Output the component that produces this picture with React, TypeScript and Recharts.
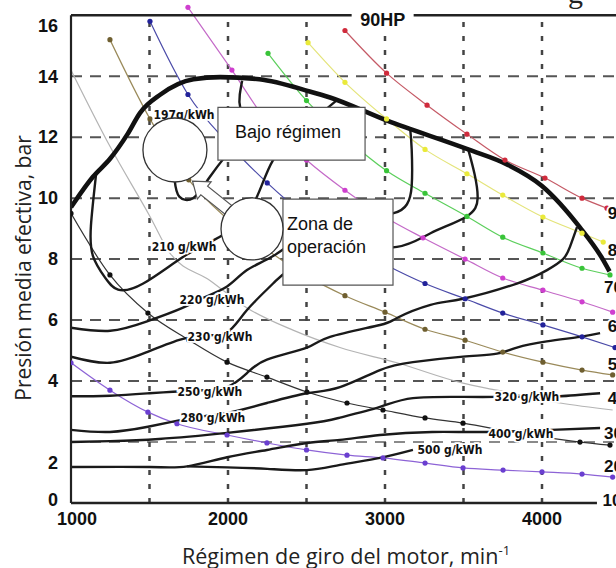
import { ComposedChart, Line, XAxis, YAxis, ReferenceLine, ReferenceDot, ReferenceArea } from "recharts";

// engine map: speed in min-1, mean effective pressure in bar

// full-load curve
const fullLoadRpm = [1000, 1140, 1250, 1360, 1440, 1570, 1780, 1950, 2200, 2520, 2650, 3010, 3530, 3780, 4000, 4240, 4390, 4430];
const fullLoadBar = [9.7, 10.7, 11.3, 12.1, 12.8, 13.4, 13.9, 13.97, 13.9, 13.5, 13.3, 12.55, 11.6, 11.1, 10.4, 9.05, 7.97, 7.6];

// specific consumption contours (g/kWh)
const c197Rpm = [1645, 1660, 1690, 1777, 1885, 2057, 2121, 2080, 2075, 2090];
const c197Bar = [11.4, 10.6, 10.05, 10.0, 10.7, 11.8, 12.2, 12.9, 13.4, 13.85];
const c210Rpm = [1160, 1127, 1140, 1216, 1300, 1460, 1713, 1900, 2050, 2180, 2287, 2459, 2690];
const c210Bar = [10.8, 9.1, 8.1, 7.4, 7.0, 7.2, 8.07, 8.6, 9.1, 10.0, 11.25, 12.2, 13.2];
const c220Rpm = [1000, 1250, 1480, 1710, 1850, 1994, 2121, 2287, 2500, 2800, 3050, 3140, 3170, 3170, 3160];
const c220Bar = [5.75, 5.65, 5.95, 6.4, 6.75, 7.1, 7.64, 8.1, 8.8, 9.3, 9.5, 9.8, 10.4, 11.6, 12.3];
const c230Rpm = [1000, 1248, 1484, 1690, 1850, 1994, 2121, 2287, 2395, 2700, 3076, 3290, 3520, 3590, 3570, 3530];
const c230Bar = [4.8, 4.6, 4.95, 5.35, 5.5, 5.6, 6.33, 7.2, 7.64, 8.2, 8.4, 8.85, 9.4, 10.0, 10.8, 11.6];
const c250Rpm = [1000, 1248, 1500, 1650, 1850, 1994, 2121, 2248, 2503, 2650, 2968, 3076, 3290, 3497, 3840, 4032, 4134, 4178, 4223];
const c250Bar = [3.5, 3.52, 3.6, 3.65, 3.7, 3.8, 4.26, 4.7, 5.1, 5.45, 5.84, 6.07, 6.5, 6.7, 7.2, 7.64, 8.0, 8.4, 9.05];
const c280Rpm = [1000, 1248, 1490, 1680, 1850, 1994, 2248, 2503, 2713, 2968, 3178, 3497, 3713, 3840, 4030, 4242, 4370];
const c280Bar = [2.4, 2.33, 2.5, 2.7, 2.85, 2.95, 3.28, 3.6, 3.8, 4.36, 4.62, 4.8, 4.9, 5.1, 5.3, 5.45, 5.57];
const c320Rpm = [1000, 1250, 1560, 1994, 2503, 2713, 2968, 3178, 3497, 3700, 3950, 4115, 4370];
const c320Bar = [2.0, 2.03, 2.1, 2.3, 2.6, 2.8, 3.15, 3.44, 3.48, 3.48, 3.48, 3.5, 3.6];
const c400Rpm = [1000, 1500, 1740, 1994, 2248, 2503, 2713, 2968, 3300, 3650, 4060, 4370];
const c400Bar = [1.18, 1.18, 1.2, 1.5, 1.74, 1.97, 2.07, 2.23, 2.33, 2.33, 2.4, 2.46];
const c500Rpm = [1740, 1994, 2250, 2503, 2713, 2968, 3178];
const c500Bar = [1.2, 1.17, 1.12, 1.08, 1.25, 1.48, 1.74];

// constant power lines
const redRpm = [2745, 3010, 3268, 3522, 3764, 4019, 4255, 4414];
const redBar = [15.5, 14.1, 13.05, 12.1, 11.25, 10.66, 10.0, 9.67];
const yellowRpm = [2510, 2745, 3010, 3255, 3522, 3750, 4006, 4255, 4390];
const yellowBar = [15.1, 13.8, 12.6, 11.6, 10.8, 10.1, 9.38, 8.85, 8.56];
const greenRpm = [2255, 2500, 2745, 3010, 3255, 3522, 3750, 4006, 4255, 4433];
const greenBar = [14.75, 13.2, 12.0, 10.9, 10.16, 9.4, 8.72, 8.2, 7.7, 7.48];
const magentaRpm = [1745, 2025, 2250, 2500, 2745, 3010, 3242, 3510, 3750, 4006, 4255, 4450];
const magentaBar = [16.26, 14.2, 12.5, 11.25, 10.26, 9.35, 8.7, 8.0, 7.38, 6.98, 6.6, 6.26];
const blueRpm = [1503, 1745, 2000, 2250, 2500, 2745, 3010, 3255, 3510, 3750, 4006, 4255, 4465];
const blueBar = [15.8, 13.4, 11.8, 10.5, 9.4, 8.55, 7.8, 7.2, 6.7, 6.23, 5.84, 5.45, 5.1];
const oliveRpm = [1248, 1503, 1750, 2000, 2250, 2500, 2745, 3000, 3255, 3510, 3750, 4006, 4255, 4450];
const oliveBar = [15.2, 12.6, 10.6, 9.3, 8.3, 7.45, 6.8, 6.26, 5.7, 5.34, 4.95, 4.62, 4.36, 4.2];
const grayRpm = [1000, 1248, 1503, 1630, 1885, 2121, 2414, 2713, 3076, 3497, 3713, 4115, 4450];
const grayBar = [14.2, 11.7, 9.4, 8.2, 7.3, 6.4, 5.67, 5.1, 4.6, 3.93, 3.7, 3.28, 3.05];
const blackRpm = [1000, 1248, 1490, 1750, 1994, 2248, 2503, 2758, 2987, 3255, 3497, 3840, 4242, 4433];
const blackBar = [9.5, 7.48, 6.23, 5.35, 4.62, 4.13, 3.64, 3.28, 3.05, 2.79, 2.62, 2.3, 2.0, 1.9];
const purpleRpm = [1000, 1248, 1490, 1675, 1994, 2248, 2500, 2758, 2987, 3255, 3497, 3752, 4000, 4255, 4450];
const purpleBar = [4.6, 3.7, 2.98, 2.6, 2.23, 1.97, 1.74, 1.57, 1.48, 1.31, 1.15, 1.08, 1.02, 0.95, 0.85];

// labels
const contourText = ["197g/kWh", "210 g/kWh", "220 g/kWh", "230 g/kWh", "250 g/kWh", "280 g/kWh", "320 g/kWh", "400 g/kWh", "500 g/kWh"];
const contourTextRpm = [1720, 1720, 1898, 1949, 1885, 1904, 3904, 3866, 3414];
const contourTextBar = [12.75, 8.39, 6.66, 5.44, 3.64, 2.79, 3.48, 2.26, 1.74];
const powerText = ["90", "80", "70", "60", "50", "40", "30", "20", "10"];
const powerTextBar = [9.5, 8.3, 7.08, 5.8, 4.56, 3.44, 2.3, 1.21, 0.1];
const powerTextRpm = [4418, 4418, 4395, 4418, 4418, 4418, 4395, 4395, 4385];

const xTicks = [1000, 2000, 3000, 4000];
const yTicks = [0, 2, 4, 6, 8, 10, 12, 14, 16];
const gridRpm = [1500, 2000, 2500, 3000, 3500, 4000];
const gridBar = [2, 4, 6, 8, 10, 12, 14];

const pts = (n: number[], p: number[]) => n.map((v, i) => ({ n: v, p: p[i] }));

const contours = [
  pts(c197Rpm, c197Bar), pts(c210Rpm, c210Bar), pts(c220Rpm, c220Bar), pts(c230Rpm, c230Bar),
  pts(c250Rpm, c250Bar), pts(c280Rpm, c280Bar), pts(c320Rpm, c320Bar), pts(c400Rpm, c400Bar), pts(c500Rpm, c500Bar),
];

const powerLines = [
  { data: pts(grayRpm, grayBar), line: "#b4b4b4", dot: "" },
  { data: pts(purpleRpm, purpleBar), line: "#8d63d6", dot: "#6a3fd0" },
  { data: pts(blackRpm, blackBar), line: "#333333", dot: "#111111" },
  { data: pts(oliveRpm, oliveBar), line: "#9a8a5a", dot: "#6f5f30" },
  { data: pts(blueRpm, blueBar), line: "#4a4aa8", dot: "#22229a" },
  { data: pts(magentaRpm, magentaBar), line: "#c46ac8", dot: "#cf3fcf" },
  { data: pts(greenRpm, greenBar), line: "#5ccf5c", dot: "#39c439" },
  { data: pts(yellowRpm, yellowBar), line: "#e4e47a", dot: "#eaea3a" },
  { data: pts(redRpm, redBar), line: "#c55a66", dot: "#d02b3c" },
];

const BOLD = "'Liberation Sans', Arial, sans-serif";
const NARROW = "'Liberation Sans Narrow', 'DejaVu Sans Condensed', sans-serif";
const TITLE = "'Open Sans', 'Noto Sans', sans-serif";
const yNudge: Record<number, number> = { 16: 10, 2: 21, 0: -3 };

const XTick = (props: any) => {
  const { x, y, payload } = props;
  return (
    <text x={x + (payload.value === 1000 ? 6 : 0)} y={y} dy="0.35em" textAnchor="middle" fontFamily={BOLD} fontWeight="bold" fontSize={18} fill="#111">
      {payload.value}
    </text>
  );
};

const YTick = (props: any) => {
  const { x, y, payload } = props;
  return (
    <text x={x} y={y + (yNudge[payload.value] ?? 0)} dy="0.35em" textAnchor="end" fontFamily={BOLD} fontWeight="bold" fontSize={18} fill="#111">
      {payload.value}
    </text>
  );
};

const haloText = (text: string, size: number, anchor: string, family: string, weight = "bold") => (p: any) => (
  <text x={p.cx} y={p.cy} dy="0.35em" textAnchor={anchor} fontFamily={family} fontWeight={weight} fontSize={size} fill="#111" stroke="#fff" strokeWidth={3.5} paintOrder="stroke">
    {text}
  </text>
);

const arrowShape = (p: any) => {
  const pts = [[0, 0], [18.6, 0.8], [15.1, 5.1], [39.3, 24.5], [32.5, 33.1], [8.3, 13.7], [4.8, 18]]
    .map(([dx, dy]) => `${p.cx + dx},${p.cy + dy}`).join(" ");
  return <polygon points={pts} fill="#fff" stroke="#555" strokeWidth={1.2} />;
};

export default function App() {
  return (
    <div style={{ position: "absolute", left: 0, top: 0, width: 616, height: 568, overflow: "hidden", background: "#fff" }}>
      <ComposedChart width={640} height={568} margin={{ top: 0, right: 19.5, bottom: 35, left: 11 }}>
        <XAxis dataKey="n" type="number" domain={[1000, 4500]} ticks={xTicks} interval={0} allowDataOverflow
          axisLine={false} tickLine={false} tickSize={0} tickMargin={16} height={30} tick={<XTick />} />
        <YAxis type="number" domain={[0, 16.5]} ticks={yTicks} interval={0} allowDataOverflow
          axisLine={false} tickLine={false} tickSize={0} tickMargin={13} width={60} tick={<YTick />} />

        {gridBar.map((b) => (
          <ReferenceLine key={"h" + b} segment={[{ x: 1000, y: b }, { x: 4500, y: b }]} stroke={b === 2 ? "#8a8a8a" : "#555"} strokeWidth={2} strokeDasharray="11 8" />
        ))}
        {gridRpm.map((r) => (
          <ReferenceLine key={"v" + r} segment={[{ x: r, y: 0 }, { x: r, y: 16 }]} stroke="#444" strokeWidth={2.5} strokeDasharray="5 9" />
        ))}

        {powerLines.map((s, i) => (
          <Line key={"pw" + i} data={s.data} dataKey="p" type="monotone" stroke={s.line} strokeWidth={1.2}
            dot={s.dot ? { r: 2.6, fill: s.dot, stroke: s.dot, strokeWidth: 0 } : false}
            activeDot={false} isAnimationActive={false} />
        ))}

        {contours.map((d, i) => (
          <Line key={"c" + i} data={d} dataKey="p" type="natural" stroke="#1a1a1a" strokeWidth={2.4} dot={false} activeDot={false} isAnimationActive={false} />
        ))}

        <Line data={pts(fullLoadRpm, fullLoadBar)} dataKey="p" type="monotone" stroke="#111" strokeWidth={4.6} dot={false} activeDot={false} isAnimationActive={false} />

        <ReferenceLine segment={[{ x: 1000, y: 16 }, { x: 4500, y: 16 }]} stroke="#222" strokeWidth={2.6} />
        <ReferenceLine segment={[{ x: 1000, y: 0 }, { x: 1000, y: 16 }]} stroke="#222" strokeWidth={2.2} />
        <ReferenceLine segment={[{ x: 1000, y: 0 }, { x: 4350, y: 0 }]} stroke="#222" strokeWidth={2.4} />

        {contourText.map((t, i) => (
          <ReferenceDot key={"ct" + i} x={contourTextRpm[i]} y={contourTextBar[i]} r={0} zIndex={1500} shape={haloText(t, 12, "middle", NARROW)} />
        ))}
        {powerText.map((t, i) => (
          <ReferenceDot key={"pt" + i} x={powerTextRpm[i]} y={powerTextBar[i]} r={0} zIndex={1500} shape={haloText(t, 17, "start", BOLD)} />
        ))}
        <ReferenceDot x={2985} y={15.84} r={0} zIndex={1500} shape={(p: any) => (
          <g>
            <rect x={p.cx - 31} y={p.cy - 12} width={62} height={22} fill="#fff" />
            <text x={p.cx} y={p.cy} dy="0.35em" textAnchor="middle" fontFamily={BOLD} fontWeight="bold" fontSize={18} fill="#111">90HP</text>
          </g>
        )} />

        <ReferenceArea x1={1936} x2={2873} y1={11.25} y2={12.98} fill="#fff" fillOpacity={1} stroke="#555" strokeWidth={1.2} zIndex={1600} />
        <ReferenceArea x1={2350} x2={3051} y1={7.15} y2={9.97} fill="#fff" fillOpacity={1} stroke="#555" strokeWidth={1.2} zIndex={1600} />
        <ReferenceDot x={1774} y={10.56} r={0} zIndex={1650} shape={arrowShape} />
        <ReferenceDot x={1662} y={11.58} r={32} fill="#fff" stroke="#333" strokeWidth={1.3} zIndex={1700} />
        <ReferenceDot x={2153} y={8.99} r={31} fill="#fff" stroke="#333" strokeWidth={1.3} zIndex={1700} />
        <ReferenceDot x={2382} y={12.17} r={0} zIndex={1800} shape={haloText("Bajo régimen", 18, "middle", BOLD, "normal")} />
        <ReferenceDot x={2376} y={9.15} r={0} zIndex={1800} shape={haloText("Zona de", 18, "start", BOLD, "normal")} />
        <ReferenceDot x={2376} y={8.4} r={0} zIndex={1800} shape={haloText("operación", 18, "start", BOLD, "normal")} />

        <text x={568} y={3} fontFamily="'Liberation Serif', serif" fontSize={30} fill="#222">g</text>
        <text x={23} y={268} transform="rotate(-90, 23, 268)" textAnchor="middle" dominantBaseline="central" fontFamily={TITLE} fontSize={21} fill="#222">
          Presión media efectiva, bar
        </text>
        <text x={346} y={564} textAnchor="middle" fontFamily={TITLE} fontSize={21.5} fill="#222">
          Régimen de giro del motor, min<tspan dy={-9} fontSize={13}>-1</tspan>
        </text>
      </ComposedChart>
    </div>
  );
}
